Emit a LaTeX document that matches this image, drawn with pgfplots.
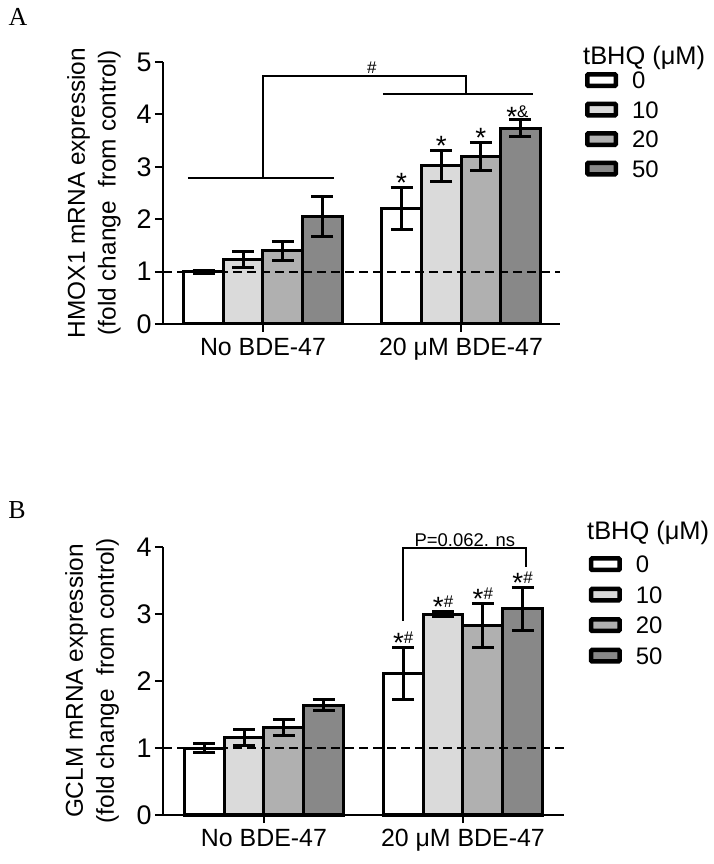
\documentclass[border=0pt]{standalone}
\usepackage{pgfplots}
\pgfplotsset{compat=1.18}
\usepackage{fontspec}
\setmainfont{Liberation Sans}
\newfontfamily\seriffont{Liberation Serif}
\definecolor{g0}{gray}{1}
\definecolor{g1}{HTML}{DADADA}
\definecolor{g2}{HTML}{B0B0B0}
\definecolor{g3}{HTML}{888888}
\newcommand{\fs}[1]{\fontsize{#1}{#1}\selectfont}
\newcommand{\st}{\raisebox{-9bp}{\fs{28}*}}
\newcommand{\legbox}[2]{\addlegendimage{legend image code/.code={\draw[black, fill=#1, line width=4.5bp, rounded corners=1bp] (0bp,-5.75bp) rectangle (28.5bp,5.75bp); \node[anchor=base west, inner sep=0pt, font=\fs{24}] at (44.75bp,-8.6bp) {#2};}}\addlegendentry{}}
\pgfplotsset{
 mybar/.style={ybar, bar width=0.2, bar shift=0pt, draw=black, line width=3bp, fill=#1, forget plot,
   error bars/.cd, y dir=both, y explicit,
   error bar style={line width=3bp, black},
   error mark options={rotate=90, mark size=11bp, line width=3bp, black}},
 brk/.style={black, line width=2bp, forget plot},
 panel/.style={
  scale only axis, clip=false,
  axis x line=bottom, axis y line=left,
  axis line style={-, line width=2bp},
  every outer x axis line/.append style={-},
  every outer y axis line/.append style={-},
  tick align=outside, major tick length=8bp,
  tick style={line width=2bp, black},
  xtick={0,1}, xticklabels={No BDE-47, 20 μM BDE-47},
  xticklabel style={font=\fs{25}, yshift=-3bp},
  yticklabel style={font=\fs{27}},
  /pgf/number format/assume math mode=true,
  ylabel style={align=center, font=\fontsize{24.5}{31}\selectfont, anchor=center},
  legend cell align=left,
  legend style={draw=none, fill=none, inner sep=0pt, outer sep=0pt, font=\fs{24},
    nodes={inner sep=0pt, text depth=0pt}, column sep=0bp, row sep=12.8bp},
  ymin=0,
 }
}
\begin{document}
\begin{tikzpicture}
\useasboundingbox (0bp,0bp) rectangle (714bp,864bp);
\node[font=\seriffont\fs{26}] at (18bp,847bp) {A};
\node[font=\seriffont\fs{26}] at (17bp,354bp) {B};
\node[anchor=base west, inner sep=0pt, font=\fs{25.5}] at (583bp,799bp) {tBHQ (μM)};
\node[anchor=base west, inner sep=0pt, font=\fs{25.5}] at (587bp,324bp) {tBHQ (μM)};
% Panel A
\begin{axis}[panel, at={(163bp,540bp)}, anchor=south west, width=397bp, height=262bp,
  xmin=-0.505, xmax=1.5, ymax=5, ytick={0,1,2,3,4,5},
  ylabel={HMOX1 mRNA expression\\(fold change~ from control)},
  ylabel style={at={(axis description cs:-0.174,0.5)}},
  legend style={at={(axis description cs:1.063,0.9618)}, anchor=north west}]
\addplot[mybar=g0] table[x=x,y=y,y error=e] {
x y e
-0.3 1.00 0.03
0.7 2.21 0.40
};
\addplot[mybar=g1] table[x=x,y=y,y error=e] {
x y e
-0.1 1.23 0.16
0.9 3.02 0.30
};
\addplot[mybar=g2] table[x=x,y=y,y error=e] {
x y e
0.1 1.40 0.18
1.1 3.20 0.27
};
\addplot[mybar=g3] table[x=x,y=y,y error=e] {
x y e
0.3 2.05 0.38
1.3 3.74 0.17
};
\legbox{g0}{0}
\legbox{g1}{10}
\legbox{g2}{20}
\legbox{g3}{50}
\addplot[brk, dash pattern=on 9bp off 5bp] coordinates {(-0.505,1) (1.5,1)};
\addplot[brk] coordinates {(-0.379,2.78) (0.359,2.78)};
\addplot[brk] coordinates {(0,2.78) (0,4.73) (1.025,4.73) (1.025,4.39)};
\addplot[brk] coordinates {(0.606,4.39) (1.364,4.39)};
\node[font=\fs{17}] at (axis cs:0.55,4.90) {\#};
\node[anchor=base, inner sep=0pt, yshift=4bp] at (axis cs:0.7,2.61) {\st};
\node[anchor=base, inner sep=0pt, yshift=4bp] at (axis cs:0.9,3.32) {\st};
\node[anchor=base, inner sep=0pt, yshift=4bp] at (axis cs:1.1,3.47) {\st};
\node[anchor=base, inner sep=0pt, yshift=2bp, xshift=-3bp] at (axis cs:1.3,3.91) {\st{\fs{17}\&}};
\end{axis}
% Panel B
\begin{axis}[panel, at={(163bp,49bp)}, anchor=south west, width=401bp, height=268bp,
  xmin=-0.5075, xmax=1.508, ymax=4, ytick={0,1,2,3,4},
  ylabel={GCLM mRNA expression\\(fold change~ from control)},
  ylabel style={at={(axis description cs:-0.177,0.5)}},
  legend style={at={(axis description cs:1.062,0.966)}, anchor=north west, row sep=13.8bp}]
\addplot[mybar=g0] table[x=x,y=y,y error=e] {
x y e
-0.3 1.00 0.07
0.7 2.11 0.39
};
\addplot[mybar=g1] table[x=x,y=y,y error=e] {
x y e
-0.1 1.15 0.12
0.9 3.00 0.03
};
\addplot[mybar=g2] table[x=x,y=y,y error=e] {
x y e
0.1 1.30 0.12
1.1 2.83 0.33
};
\addplot[mybar=g3] table[x=x,y=y,y error=e] {
x y e
0.3 1.64 0.08
1.3 3.08 0.32
};
\legbox{g0}{0}
\legbox{g1}{10}
\legbox{g2}{20}
\legbox{g3}{50}
\addplot[brk, dash pattern=on 9bp off 5bp] coordinates {(-0.5075,1) (1.508,1)};
\addplot[brk] coordinates {(0.698,2.90) (0.698,3.985) (1.317,3.985) (1.317,3.70)};
\node[anchor=base, inner sep=0pt, yshift=1.5bp, font=\fs{18.5}] at (axis cs:1.01,3.985) {P=0.062. ns};
\node[anchor=base, inner sep=0pt, yshift=4bp] at (axis cs:0.7,2.50) {\st{\fs{17}\#}};
\node[anchor=base, inner sep=0pt, yshift=4bp] at (axis cs:0.9,3.03) {\st{\fs{17}\#}};
\node[anchor=base, inner sep=0pt, yshift=4bp] at (axis cs:1.1,3.16) {\st{\fs{17}\#}};
\node[anchor=base, inner sep=0pt, yshift=4bp] at (axis cs:1.3,3.40) {\st{\fs{17}\#}};
\end{axis}
\end{tikzpicture}
\end{document}
